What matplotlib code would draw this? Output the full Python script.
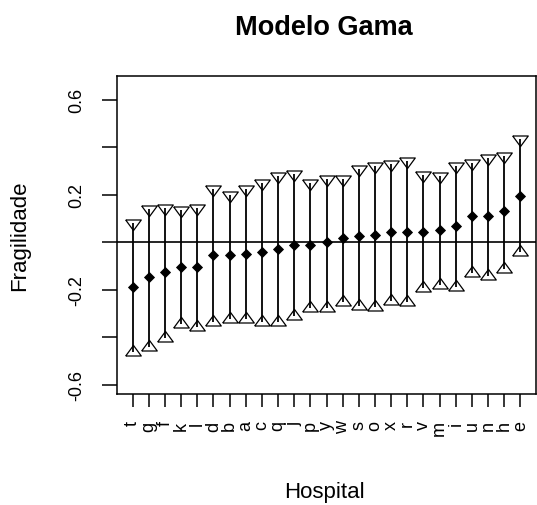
import matplotlib
matplotlib.use("Agg")
import matplotlib.pyplot as plt
from matplotlib.markers import MarkerStyle
import numpy as np

plt.rcParams['font.family'] = ['Liberation Sans', 'DejaVu Sans']

# Hospitals ordered by estimated frailty
hospitals = ['t', 'g', 'f', 'k', 'l', 'd', 'b', 'a', 'c', 'q', 'j', 'p', 'y',
             'w', 's', 'o', 'x', 'r', 'v', 'm', 'i', 'u', 'n', 'h', 'e']

frailty = [-0.191, -0.147, -0.126, -0.104, -0.104, -0.055, -0.055, -0.048,
           -0.041, -0.027, -0.011, -0.011, 0.001, 0.017, 0.025, 0.031,
           0.043, 0.043, 0.043, 0.052, 0.069, 0.108, 0.108, 0.131, 0.194]

upper = [0.080, 0.139, 0.142, 0.135, 0.142, 0.223, 0.198, 0.223, 0.251,
         0.279, 0.286, 0.251, 0.268, 0.268, 0.307, 0.321, 0.328, 0.342,
         0.282, 0.279, 0.321, 0.335, 0.356, 0.363, 0.434]

lower = [-0.465, -0.441, -0.403, -0.345, -0.359, -0.338, -0.324, -0.324,
         -0.338, -0.338, -0.310, -0.279, -0.279, -0.251, -0.268, -0.272,
         -0.247, -0.251, -0.195, -0.181, -0.188, -0.131, -0.144, -0.114,
         -0.043]

y_ticks = [-0.6, -0.4, -0.2, 0.0, 0.2, 0.4, 0.6]
y_ticklabels = ['-0.6', '', '-0.2', '', '0.2', '', '0.6']

W, H = 537, 506
fig = plt.figure(figsize=(W / 100, H / 100), dpi=100)
ax = fig.add_axes([117 / W, (H - 395) / H, (536 - 117) / W, (395 - 77) / H])

x = np.arange(1, len(hospitals) + 1)

# open triangles, slightly flattened
tri_down = MarkerStyle([(-1, 0.45), (1, 0.45), (0, -0.91), (-1, 0.45)])
tri_up = MarkerStyle([(-1, -0.45), (1, -0.45), (0, 0.91), (-1, -0.45)])

ax.axhline(0, color='black', lw=1.2, zorder=1)
ax.vlines(x, lower, upper, color='black', lw=1.3, zorder=2)
ax.plot(x, upper, linestyle='none', marker=tri_down, markersize=11.2,
        markerfacecolor='none', markeredgecolor='black', markeredgewidth=0.9,
        zorder=3)
ax.plot(x, lower, linestyle='none', marker=tri_up, markersize=11.2,
        markerfacecolor='none', markeredgecolor='black', markeredgewidth=0.9,
        zorder=3)
ax.plot(x, frailty, linestyle='none', marker='D', markersize=5.2,
        color='black', markeredgewidth=0.6, zorder=4)

ax.set_xlim(0.04, 25.96)
ax.set_ylim(-0.64, 0.70)

ax.set_xticks(x)
ax.set_xticklabels(hospitals, rotation=90, fontsize=13)
ax.set_yticks(y_ticks)
ax.set_yticklabels(y_ticklabels, rotation=90, va='center', fontsize=13)

ax.tick_params(axis='x', direction='out', length=9, width=1.1, pad=10)
ax.tick_params(axis='y', direction='out', length=11, width=1.1, pad=12)
for s in ax.spines.values():
    s.set_linewidth(1.1)

fig.text(324 / W, (H - 28) / H, 'Modelo Gama', ha='center', va='center',
         fontsize=19.5, fontweight='bold')
fig.text(324 / W, (H - 493) / H, 'Hospital', ha='center', va='center',
         fontsize=16)
fig.text(20 / W, (H - 236) / H, 'Fragilidade', ha='center', va='center',
         rotation=90, fontsize=16)

fig.savefig('out.png', dpi=100)
